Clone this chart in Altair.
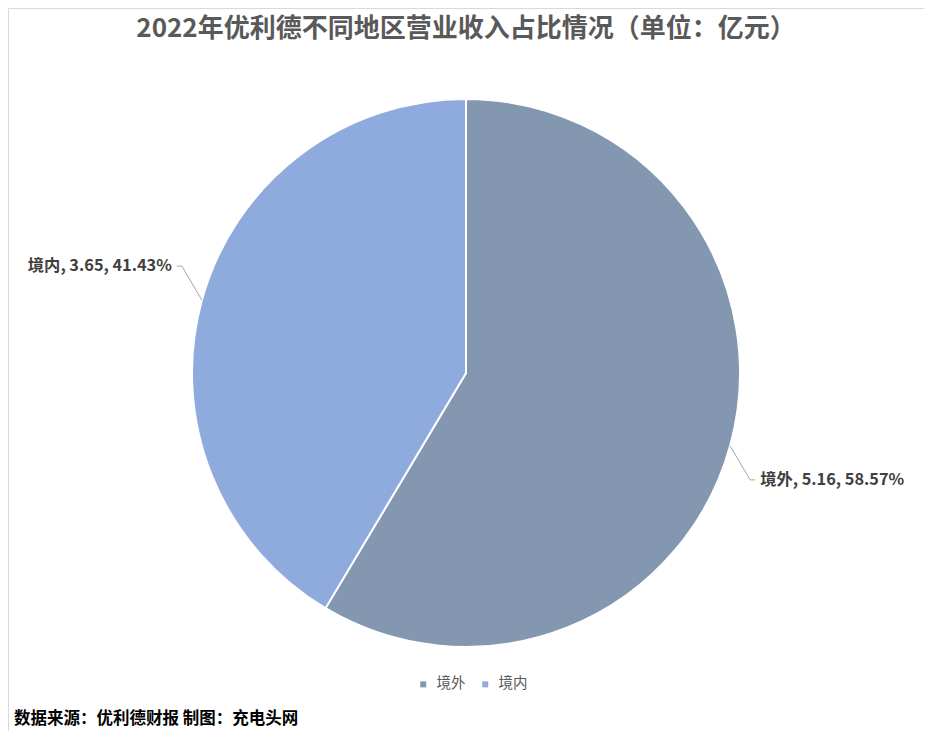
import altair as alt
import pandas as pd
import numpy as np

# ---- data ----
regions = ["境外", "境内"]
revenue = [5.16, 3.65]
shares = ["58.57%", "41.43%"]
colors = ["#8497B0", "#8FAADC"]
title_text = ["2022年优利德不同地区营业收入占比情况（单位：亿元）"]
source_text = ["数据来源：优利德财报 制图：充电头网"]

# ---- layout (chart coordinates; page has 8px margin) ----
W, H = 916, 723
CX, CY, R = 458, 365, 274
FONT = "Noto Sans CJK SC"

df = pd.DataFrame({
    "region": regions,
    "value": revenue,
    "share": shares,
    "order": list(range(len(regions))),
})
df["label"] = df["region"] + ", " + df["value"].map("{:.2f}".format) + ", " + df["share"]

# label / leader geometry derived from the slice mid-angles
frac = np.array(revenue) / sum(revenue)
mid = (np.cumsum(frac) - frac / 2) * 2 * np.pi
sx, sy = np.sin(mid), -np.cos(mid)
px, py = CX + R * sx, CY + R * sy
dx, dy = np.sign(sx), np.sign(sy)
ex, ey = px + 20 * dx, py + 34 * dy
tx = ex + 5 * dx
lx = ex + 10 * dx

lines = []
for i, reg in enumerate(regions):
    lines += [
        {"region": reg, "k": 0, "x": px[i], "y": py[i]},
        {"region": reg, "k": 1, "x": ex[i], "y": ey[i]},
        {"region": reg, "k": 2, "x": tx[i], "y": ey[i]},
    ]
lines_df = pd.DataFrame(lines)

labels_df = df.copy()
labels_df["lx"] = lx
labels_df["ly"] = ey
labels_df["side"] = np.where(dx > 0, "r", "l")

pie = alt.Chart(df).mark_arc(outerRadius=R, stroke="white", strokeWidth=2).encode(
    theta=alt.Theta("value:Q", stack=True),
    order=alt.Order("order:Q"),
    color=alt.Color(
        "region:N",
        scale=alt.Scale(domain=regions, range=colors),
        legend=alt.Legend(
            title=None,
            orient="none",
            legendX=408,
            legendY=669,
            direction="horizontal",
            symbolType="square",
            symbolSize=36,
            symbolStrokeWidth=0,
            labelFont=FONT,
            labelFontSize=14.5,
            labelColor="#595959",
            labelOffset=6,
            columnPadding=12,
            padding=0,
        ),
    ),
    x=alt.value(CX),
    y=alt.value(CY),
)

leaders = alt.Chart(lines_df).mark_line(color="#A6A6A6", strokeWidth=1).encode(
    x=alt.X("x:Q", scale=None),
    y=alt.Y("y:Q", scale=None),
    detail="region:N",
    order="k:Q",
)

lab_r = alt.Chart(labels_df).transform_filter(alt.datum.side == "r").mark_text(
    align="left", baseline="middle", font=FONT, fontSize=16.3, fontWeight="bold", color="#404040"
).encode(x=alt.X("lx:Q", scale=None), y=alt.Y("ly:Q", scale=None), text="label:N")

lab_l = alt.Chart(labels_df).transform_filter(alt.datum.side == "l").mark_text(
    align="right", baseline="middle", font=FONT, fontSize=16.3, fontWeight="bold", color="#404040"
).encode(x=alt.X("lx:Q", scale=None), y=alt.Y("ly:Q", scale=None), text="label:N")

title = alt.Chart(pd.DataFrame({"t": title_text})).mark_text(
    align="center", baseline="middle", font=FONT, fontSize=26, fontWeight="bold", color="#595959"
).encode(x=alt.value(W / 2), y=alt.value(21), text="t:N")

source = alt.Chart(pd.DataFrame({"t": source_text})).mark_text(
    align="left", baseline="middle", font=FONT, fontSize=16.5, fontWeight="bold", color="#000000"
).encode(x=alt.value(6), y=alt.value(711), text="t:N")

chart = alt.layer(pie, leaders, lab_r, lab_l, title, source).properties(
    width=W, height=H, autosize=alt.AutoSizeParams(type="none"), padding=0
).configure_view(stroke="#D9D9D9", strokeWidth=1)

chart.save("out.html", embed_options={"renderer": "svg", "actions": False})
